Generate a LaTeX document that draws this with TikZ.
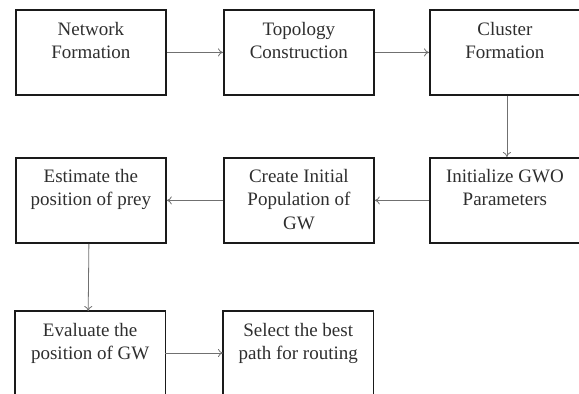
\documentclass[tikz,border=0pt]{standalone}
\usepackage{fontspec}
\setmainfont{Liberation Serif}
\usetikzlibrary{arrows.meta}
\definecolor{boxline}{HTML}{1A1A1A}
\definecolor{txtcol}{HTML}{2E2E2E}
\definecolor{arrcol}{HTML}{707070}
\newcommand\firstln{\rule{0pt}{14pt}}
\begin{document}
\begin{tikzpicture}[x=1pt,y=-1pt,
  stepbox/.style={draw=boxline,line width=1.8pt,minimum width=150pt,minimum height=85pt,inner sep=0pt,anchor=north west},
  cutbox/.style={minimum width=150pt,minimum height=83pt,inner sep=0pt,anchor=north west},
  txt/.style={anchor=north,align=center,font=\fontsize{19}{23.5}\selectfont,text=txtcol,inner sep=0pt},
  conn/.style={draw=arrcol,line width=0.8pt,-{To[length=5pt,width=8pt]}}]
\useasboundingbox (0,0) rectangle (579,394);
% row 1
\node[stepbox] (b1) at (15,9) {};
\node[stepbox] (b2) at (223,9) {};
\node[stepbox] (b3) at (429,9) {};
% row 2
\node[stepbox] (b4) at (15,157) {};
\node[stepbox] (b5) at (223,157) {};
\node[stepbox] (b6) at (429,157) {};
% row 3 (cut at bottom)
\node[cutbox] (b7) at (15,311) {};
\node[cutbox] (b8) at (223,311) {};
\draw[boxline,line width=1.8pt] (b7.south west) -- (b7.north west) -- (b7.north east) -- (b7.south east);
\draw[boxline,line width=1.8pt] (b8.south west) -- (b8.north west) -- (b8.north east) -- (b8.south east);
\draw[black!25,line width=0.8pt] (b7.south west) -- (b7.south east);
\draw[black!25,line width=0.8pt] (b8.south west) -- (b8.south east);
% texts
\node[txt] (t1) at ([yshift=-12pt]b1.north) {\firstln Network\\Formation};
\node[txt] (t2) at ([yshift=-12pt]b2.north) {\firstln Topology\\Construction};
\node[txt] (t3) at ([yshift=-12pt]b3.north) {\firstln Cluster\\Formation};
\node[txt] (t4) at ([yshift=-11pt]b4.north) {\firstln Estimate the\\position of prey};
\node[txt] (t5) at ([yshift=-11pt]b5.north) {\firstln Create Initial\\Population of\\GW};
\node[txt] (t6) at ([yshift=-11pt]b6.north) {\firstln Initialize GWO\\Parameters};
\node[txt] (t7) at ([yshift=-11pt]b7.north) {\firstln Evaluate the\\position of GW};
\node[txt] (t8) at ([yshift=-11pt]b8.north) {\firstln Select the best\\path for routing};
% connectors
\draw[conn] (b1.east) -- (b2.west);
\draw[conn] (b2.east) -- (b3.west);
\draw[conn] ([xshift=2pt]b3.south) -- ([xshift=2pt]b6.north);
\draw[conn] (b6.west) -- (b5.east);
\draw[conn] (b5.west) -- (b4.east);
\draw[conn] ([xshift=-2pt]b4.south) -- ([xshift=-2pt]b7.north);
\draw[conn] (b7.east |- 0,353) coordinate (c7) -- (b8.west |- c7);
\end{tikzpicture}
\end{document}
